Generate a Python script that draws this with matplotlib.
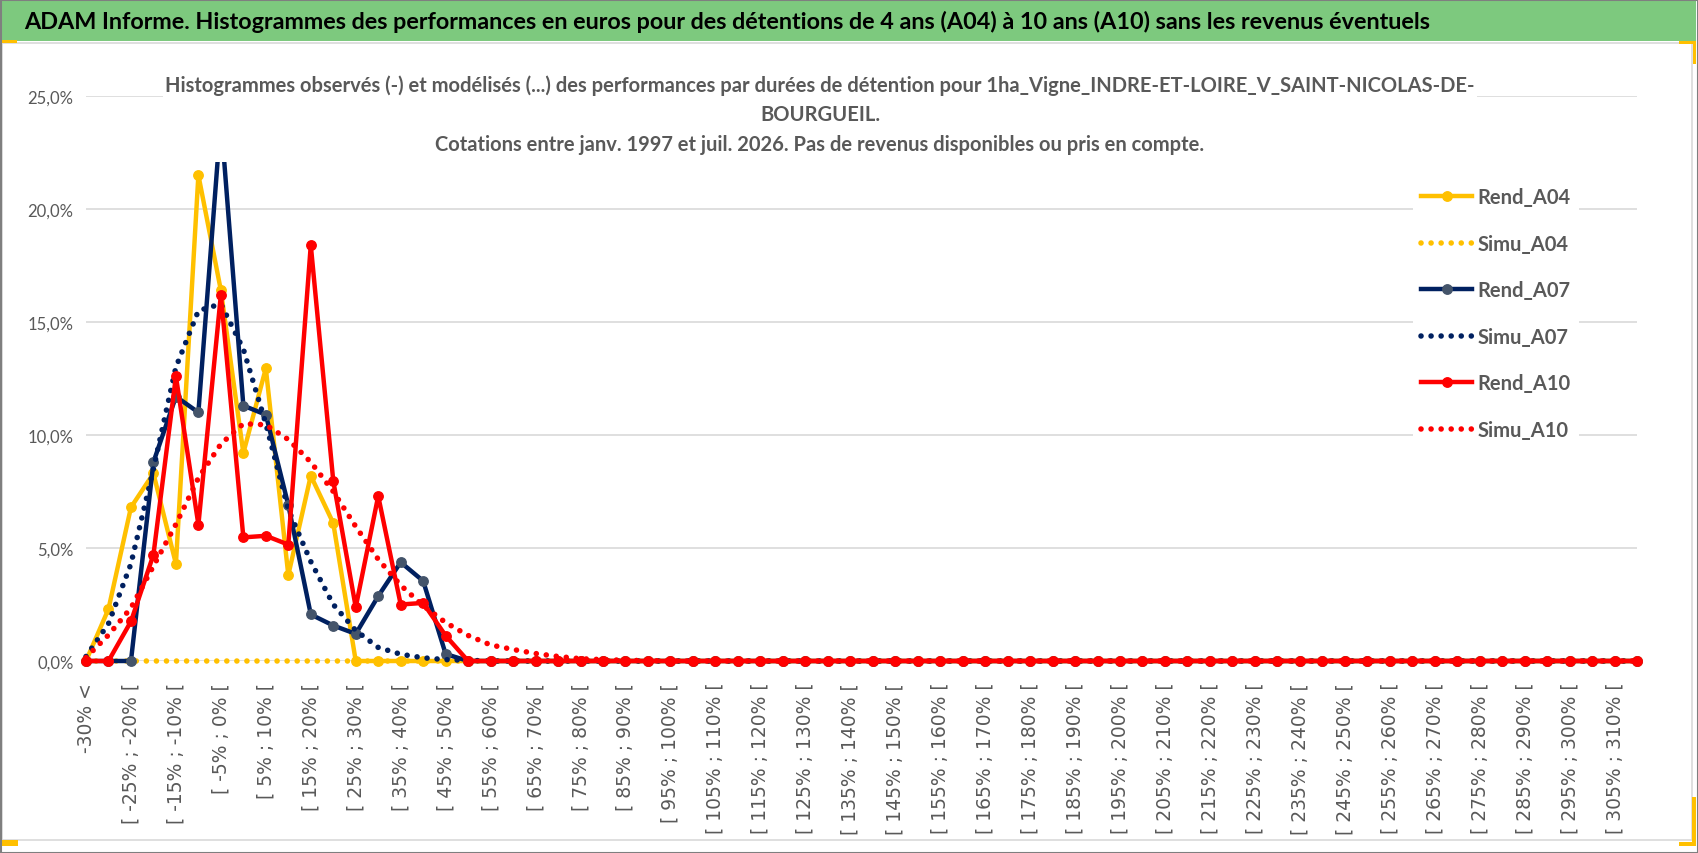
import matplotlib
matplotlib.use('Agg')
import matplotlib.pyplot as plt
from matplotlib.patches import Rectangle

W, H = 1698, 854

# Category labels (5% bins)
bin_lows = list(range(-30, 315, 5))
categories = ['-30% <'] + [f'[ {lo}% ; {lo + 5}% [' for lo in bin_lows]

# Observed / modelled frequencies (%) per bin
rend_a04 = [0.0, 2.3, 6.8, 8.3, 4.3, 21.5, 16.4, 9.2, 12.95, 3.8,
            8.2, 6.1, 0.0, 0.0, 0.0, 0.0, 0.0, 0.0, 0.0, 0.0,
            0.0, 0.0, 0.0, 0.0, 0.0, 0.0, 0.0, 0.0, 0.0, 0.0,
            0.0, 0.0, 0.0, 0.0, 0.0, 0.0, 0.0, 0.0, 0.0, 0.0,
            0.0, 0.0, 0.0, 0.0, 0.0, 0.0, 0.0, 0.0, 0.0, 0.0,
            0.0, 0.0, 0.0, 0.0, 0.0, 0.0, 0.0, 0.0, 0.0, 0.0,
            0.0, 0.0, 0.0, 0.0, 0.0, 0.0, 0.0, 0.0, 0.0, 0.0]
simu_a04 = [0.0, 0.0, 0.0, 0.0, 0.0, 0.0, 0.0, 0.0, 0.0, 0.0,
            0.0, 0.0, 0.0, 0.0, 0.0, 0.0, 0.0, 0.0, 0.0, 0.0,
            0.0, 0.0, 0.0, 0.0, 0.0, 0.0, 0.0, 0.0, 0.0, 0.0,
            0.0, 0.0, 0.0, 0.0, 0.0, 0.0, 0.0, 0.0, 0.0, 0.0,
            0.0, 0.0, 0.0, 0.0, 0.0, 0.0, 0.0, 0.0, 0.0, 0.0,
            0.0, 0.0, 0.0, 0.0, 0.0, 0.0, 0.0, 0.0, 0.0, 0.0,
            0.0, 0.0, 0.0, 0.0, 0.0, 0.0, 0.0, 0.0, 0.0, 0.0]
rend_a07 = [0.0, 0.0, 0.0, 8.8, 11.7, 11.0, 24.0, 11.3, 10.9, 6.9,
            2.06, 1.57, 1.2, 2.87, 4.37, 3.54, 0.31, 0.0, 0.0, 0.0,
            0.0, 0.0, 0.0, 0.0, 0.0, 0.0, 0.0, 0.0, 0.0, 0.0,
            0.0, 0.0, 0.0, 0.0, 0.0, 0.0, 0.0, 0.0, 0.0, 0.0,
            0.0, 0.0, 0.0, 0.0, 0.0, 0.0, 0.0, 0.0, 0.0, 0.0,
            0.0, 0.0, 0.0, 0.0, 0.0, 0.0, 0.0, 0.0, 0.0, 0.0,
            0.0, 0.0, 0.0, 0.0, 0.0, 0.0, 0.0, 0.0, 0.0, 0.0]
simu_a07 = [0.2, 1.65, 4.3, 8.5, 13.0, 15.5, 15.8, 13.8, 10.5, 6.7,
            4.4, 2.5, 1.35, 0.6, 0.3, 0.14, 0.06, 0.03, 0.0, 0.0,
            0.0, 0.0, 0.0, 0.0, 0.0, 0.0, 0.0, 0.0, 0.0, 0.0,
            0.0, 0.0, 0.0, 0.0, 0.0, 0.0, 0.0, 0.0, 0.0, 0.0,
            0.0, 0.0, 0.0, 0.0, 0.0, 0.0, 0.0, 0.0, 0.0, 0.0,
            0.0, 0.0, 0.0, 0.0, 0.0, 0.0, 0.0, 0.0, 0.0, 0.0,
            0.0, 0.0, 0.0, 0.0, 0.0, 0.0, 0.0, 0.0, 0.0, 0.0]
rend_a10 = [0.0, 0.0, 1.75, 4.7, 12.6, 6.03, 16.2, 5.47, 5.54, 5.15,
            18.4, 7.97, 2.38, 7.3, 2.5, 2.57, 1.12, 0.0, 0.0, 0.0,
            0.0, 0.0, 0.0, 0.0, 0.0, 0.0, 0.0, 0.0, 0.0, 0.0,
            0.0, 0.0, 0.0, 0.0, 0.0, 0.0, 0.0, 0.0, 0.0, 0.0,
            0.0, 0.0, 0.0, 0.0, 0.0, 0.0, 0.0, 0.0, 0.0, 0.0,
            0.0, 0.0, 0.0, 0.0, 0.0, 0.0, 0.0, 0.0, 0.0, 0.0,
            0.0, 0.0, 0.0, 0.0, 0.0, 0.0, 0.0, 0.0, 0.0, 0.0]
simu_a10 = [0.15, 1.15, 2.35, 4.2, 6.05, 8.1, 9.6, 10.5, 10.45, 9.8,
            8.8, 7.5, 5.95, 4.5, 3.35, 2.45, 1.7, 1.13, 0.71, 0.51,
            0.33, 0.2, 0.1, 0.06, 0.03, 0.015, 0.0, 0.0, 0.0, 0.0,
            0.0, 0.0, 0.0, 0.0, 0.0, 0.0, 0.0, 0.0, 0.0, 0.0,
            0.0, 0.0, 0.0, 0.0, 0.0, 0.0, 0.0, 0.0, 0.0, 0.0,
            0.0, 0.0, 0.0, 0.0, 0.0, 0.0, 0.0, 0.0, 0.0, 0.0,
            0.0, 0.0, 0.0, 0.0, 0.0, 0.0, 0.0, 0.0, 0.0, 0.0]

y_ticks = [0, 5, 10, 15, 20, 25]
y_tick_labels = ['0,0%', '5,0%', '10,0%', '15,0%', '20,0%', '25,0%']

main_title = ("ADAM Informe. Histogrammes des performances en euros pour des détentions "
              "de 4 ans (A04) à 10 ans (A10) sans les revenus éventuels")
sub_title = ("Histogrammes observés (-) et modélisés (...) des performances par durées de "
             "détention pour 1ha_Vigne_INDRE-ET-LOIRE_V_SAINT-NICOLAS-DE-\nBOURGUEIL.\n"
             "Cotations entre janv. 1997 et juil. 2026. Pas de revenus disponibles ou pris en compte.")

YELLOW = '#FFC000'
NAVY = '#002060'
NAVY_MK = '#44546A'
RED = '#FF0000'
GRID = '#D9D9D9'
TXT = '#595959'
FAM = ['Lato', 'DejaVu Sans']
DOTS = (0, (0.01, 1.8))

fig = plt.figure(figsize=(W / 100, H / 100), dpi=100)
fig.patch.set_facecolor('white')


def px_rect(x0, y0, x1, y1, **kw):
    r = Rectangle((x0 / W, 1 - y1 / H), (x1 - x0) / W, (y1 - y0) / H,
                  transform=fig.transFigure, **kw)
    fig.patches.append(r)
    return r


# banner and chart frame
px_rect(2, 2, 1696, 42, facecolor='#7DC97E', edgecolor='none', zorder=1)
px_rect(2, 44, 1692, 841, facecolor='none', edgecolor=GRID, lw=1.2, zorder=1)
for box in [(0, 41, 17, 44), (0, 841, 18, 847), (1679, 42, 1696, 45),
            (1693, 42, 1696, 65), (1679, 843, 1696, 847), (1692, 798, 1696, 847)]:
    px_rect(*box, facecolor=YELLOW, edgecolor='none', zorder=12)
px_rect(0.5, 0.5, W - 0.5, H - 0.5, facecolor='none', edgecolor='#7F7F7F', lw=1.5, zorder=13)

fig.text(24 / W, 1 - 22 / H, main_title, ha='left', va='center', fontsize=16.8,
         fontweight='bold', color='black', family=FAM, zorder=12)

ax = fig.add_axes([86 / W, 1 - 662 / H, 1551 / W, 565 / H])
x = list(range(len(categories)))

ax.plot(x, rend_a04, color=YELLOW, lw=3.2, marker='o', ms=6.8, label='Rend_A04',
        clip_on=False, zorder=3, solid_joinstyle='round')
ax.plot(x, simu_a04, color=YELLOW, lw=4, ls=DOTS, dash_capstyle='round',
        label='Simu_A04', clip_on=False, zorder=3)
ax.plot(x, rend_a07, color=NAVY, lw=3.2, marker='o', ms=6.8, mfc=NAVY_MK, mec=NAVY_MK,
        label='Rend_A07', clip_on=False, zorder=3, solid_joinstyle='round')
ax.plot(x, simu_a07, color=NAVY, lw=4, ls=DOTS, dash_capstyle='round',
        label='Simu_A07', clip_on=False, zorder=3)
ax.plot(x, rend_a10, color=RED, lw=3.2, marker='o', ms=6.8, label='Rend_A10',
        clip_on=False, zorder=3, solid_joinstyle='round')
ax.plot(x, simu_a10, color=RED, lw=4, ls=DOTS, dash_capstyle='round',
        label='Simu_A10', clip_on=False, zorder=3)

ax.set_xlim(0, len(categories) - 1)
ax.set_ylim(0, 25)
for s in ax.spines.values():
    s.set_visible(False)

ax.set_yticks(y_ticks)
ax.set_yticklabels(y_tick_labels, family=FAM, fontsize=12, color=TXT)
ax.set_xticks(x[::2])
ax.set_xticklabels(categories[::2], rotation=90, family='DejaVu Sans', fontsize=13.5,
                   color=TXT, va='top', ha='center')
ax.set_xticks(x[::4], minor=True)
ax.tick_params(axis='both', which='both', length=0)
ax.tick_params(axis='x', pad=15)
ax.tick_params(axis='y', pad=9)
ax.grid(axis='y', which='major', color=GRID, lw=1.2)
ax.grid(axis='x', which='minor', color=GRID, lw=1.2)
ax.set_axisbelow(True)

# white title block over the top of the plot
px_rect(163, 45, 1477, 163, facecolor='white', edgecolor='none', zorder=5)
fig.text(820 / W, 1 - 115 / H, sub_title, ha='center', va='center', fontsize=14.5,
         fontweight='bold', color=TXT, family=FAM, linespacing=1.58, zorder=6)

leg = ax.legend(loc='upper left', bbox_to_anchor=(1413 / W, 1 - 180 / H),
                bbox_transform=fig.transFigure, frameon=True, fancybox=False,
                facecolor='white', edgecolor='none', framealpha=1, borderpad=0.4,
                borderaxespad=0, handlelength=2.55, handletextpad=0.25, labelspacing=1.32,
                prop={'family': FAM, 'weight': 'bold', 'size': 14.5})
for t in leg.get_texts():
    t.set_color(TXT)
leg.set_zorder(6)

fig.savefig('out.png', dpi=100)
